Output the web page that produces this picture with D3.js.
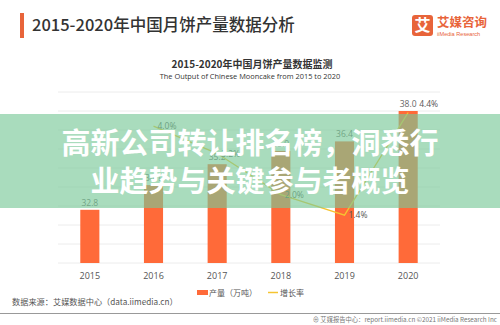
<!DOCTYPE html>
<html>
<head>
<meta charset="utf-8">
<script src="https://cdn.jsdelivr.net/npm/d3@7"></script>
<style>
html,body{margin:0;padding:0;background:#fff;}
svg{display:block;font-family:"Noto Sans CJK SC","Noto Sans",sans-serif;}
</style>
</head>
<body>
<svg id="c" width="500" height="325"></svg>
<script>
const years = ["2015","2016","2017","2018","2019","2020"];
const output = [32.8, 34.1, 35.2, 35.9, 36.4, 38.0];
const growth = [null, 4.0, 3.2, 2.0, 1.4, 4.4];
const growthLabels = ["", "4.0%", "3.2%", "2.0%", "1.4%", "4.4%"];
const legendLabels = ["产量（万吨）", "增长率"];

(function(){
const svg = d3.select("#c");
const pL = 58, pR = 440, pT = 92, pB = 263;

const x = d3.scaleBand().domain(years).range([pL, pR]).paddingInner(0.7).paddingOuter(0.35);
const yBar = d3.scaleLinear().domain([30, 39]).range([pB, pT]);
const yRate = d3.scaleLinear().domain([0, 5]).range([pB, pT]);

// header
svg.append("rect").attr("x",20).attr("y",13).attr("width",4).attr("height",25).attr("fill","#e8643a");
svg.append("text").attr("x",32).attr("y",31).attr("font-size",16.5).attr("fill","#333").attr("font-weight",500)
  .text("2015-2020年中国月饼产量数据分析");
// logo
svg.append("rect").attr("x",412).attr("y",15).attr("width",21).attr("height",21).attr("rx",3).attr("fill","#e8643a");
svg.append("text").attr("x",422.5).attr("y",31).attr("text-anchor","middle").attr("font-size",16).attr("font-weight",700).attr("fill","#fff").text("艾");
svg.append("text").attr("x",437).attr("y",27).attr("font-size",12.5).attr("font-weight",700).attr("fill","#e8643a").text("艾媒咨询");
svg.append("text").attr("x",437).attr("y",35.5).attr("font-size",5.6).attr("fill","#e8643a").attr("font-family","Liberation Sans, sans-serif").text("iiMedia Research");

// chart titles
svg.append("text").attr("x",252).attr("y",68).attr("text-anchor","middle").attr("font-size",10).attr("font-weight",700).attr("fill","#333")
  .text("2015-2020年中国月饼产量数据监测");
svg.append("text").attr("x",250).attr("y",79).attr("text-anchor","middle").attr("font-size",7.4).attr("fill","#333")
  .attr("font-family","Open Sans, sans-serif").text("The  Output of Chinese Mooncake from 2015 to 2020");

// gridlines
svg.append("g").selectAll("line").data(yBar.ticks(9)).join("line")
  .attr("x1",pL).attr("x2",pR).attr("y1",d=>yBar(d)).attr("y2",d=>yBar(d))
  .attr("stroke","#ececec").attr("stroke-width",1);

// bars
svg.append("g").selectAll("rect").data(output).join("rect")
  .attr("x",(d,i)=>x(years[i])).attr("width",x.bandwidth())
  .attr("y",d=>yBar(d)).attr("height",d=>pB-yBar(d)).attr("fill","#ff6a39");
svg.append("g").selectAll("text").data(output).join("text")
  .attr("x",(d,i)=>x(years[i])+x.bandwidth()/2).attr("y",d=>yBar(d)-4)
  .attr("text-anchor","middle").attr("font-size",8.5).attr("fill","#666")
  .attr("font-family","Open Sans, sans-serif").text(d=>d.toFixed(1));

// growth line
const pts = growth.map((g,i)=>({g,i})).filter(p=>p.g!==null);
const line = d3.line().x(p=>x(years[p.i])+x.bandwidth()/2).y(p=>yRate(p.g));
svg.append("path").datum(pts).attr("d",line).attr("fill","none").attr("stroke","#f5c431").attr("stroke-width",1.3);
const lastI = years.length - 1;
svg.append("g").selectAll("text").data(pts).join("text")
  .attr("x",p=>x(years[p.i])+x.bandwidth()/2+(p.i===lastI?11:4))
  .attr("y",p=>yRate(p.g)+(p.i===lastI?-6:3))
  .attr("font-size",8.5).attr("fill","#555").attr("font-family","Open Sans, sans-serif")
  .text(p=>growthLabels[p.i]);

// x axis labels
const xAxis = d3.axisBottom(x).tickSize(0).tickPadding(10);
const gx = svg.append("g").attr("transform",`translate(0,${pB})`).call(xAxis);
gx.select(".domain").remove();
gx.selectAll("text").attr("font-size",9).attr("fill","#555").attr("font-family","Open Sans, sans-serif");

// legend
svg.append("rect").attr("x",197).attr("y",290).attr("width",11).attr("height",5).attr("fill","#ff6a39");
svg.append("text").attr("x",209).attr("y",295.5).attr("font-size",8).attr("fill","#555").text(legendLabels[0]);
svg.append("line").attr("x1",268).attr("x2",278).attr("y1",292.5).attr("y2",292.5).attr("stroke","#f5c431").attr("stroke-width",1.5);
svg.append("text").attr("x",280).attr("y",295.5).attr("font-size",8).attr("fill","#555").text(legendLabels[1]);

// source & footer
svg.append("text").attr("x",12).attr("y",305).attr("font-size",8.2).attr("fill","#555").text("数据来源：艾媒数据中心（data.iimedia.cn）");
svg.append("line").attr("x1",0).attr("x2",500).attr("y1",313.5).attr("y2",313.5).attr("stroke","#999").attr("stroke-width",1);
svg.append("text").attr("x",497).attr("y",322).attr("text-anchor","end").attr("font-size",6.3).attr("fill","#777")
  .text("⊕ 艾媒报告中心：report.iimedia.cn   ©2021  iiMedia Research Inc");

// overlay band
svg.append("rect").attr("x",0).attr("y",114).attr("width",500).attr("height",94).attr("fill","rgb(120,200,152)").attr("opacity",0.64);
svg.append("text").attr("x",250).attr("y",154).attr("text-anchor","middle").attr("font-size",29).attr("font-weight",700).attr("fill","#fff")
  .text("高新公司转让排名榜，洞悉行");
svg.append("text").attr("x",250).attr("y",192).attr("text-anchor","middle").attr("font-size",29).attr("font-weight",700).attr("fill","#fff")
  .text("业趋势与关键参与者概览");
})();
</script>
</body>
</html>
